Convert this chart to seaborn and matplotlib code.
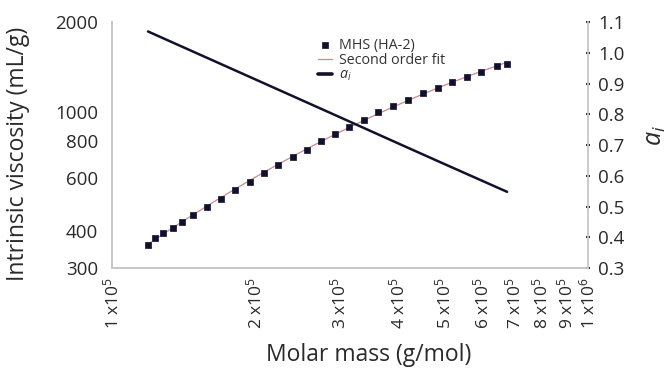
import numpy as np
import pandas as pd
import matplotlib
matplotlib.use("Agg")
import matplotlib.pyplot as plt
from matplotlib.ticker import FixedLocator, NullLocator, FixedFormatter
import seaborn as sns

# ---- data ----
molar_mass = [1.19e5, 1.23e5, 1.28e5, 1.34e5, 1.40e5, 1.48e5, 1.58e5, 1.69e5,
              1.81e5, 1.95e5, 2.09e5, 2.23e5, 2.40e5, 2.57e5, 2.75e5, 2.94e5,
              3.15e5, 3.38e5, 3.62e5, 3.89e5, 4.19e5, 4.50e5, 4.84e5, 5.18e5,
              5.57e5, 5.96e5, 6.44e5, 6.76e5]
viscosity = [359, 379, 394, 409, 429, 453, 482, 513, 546, 581, 623, 663, 706,
             745, 800, 844, 892, 942, 1002, 1050, 1100, 1161, 1207, 1265, 1315,
             1367, 1422, 1444]
ai_mass = [1.19e5, 2.0e5, 3.0e5, 4.0e5, 5.0e5, 6.76e5]
ai_values = [1.070, 0.914, 0.792, 0.705, 0.638, 0.548]

x_ticks = [1e5, 2e5, 3e5, 4e5, 5e5, 6e5, 7e5, 8e5, 9e5, 1e6]
x_tick_labels = [r"1 x10$^{5}$", r"2 x10$^{5}$", r"3 x10$^{5}$", r"4 x10$^{5}$",
                 r"5 x10$^{5}$", r"6 x10$^{5}$", r"7 x10$^{5}$", r"8 x10$^{5}$",
                 r"9 x10$^{5}$", r"1 x10$^{6}$"]
y_ticks = [300, 400, 600, 800, 1000, 2000]
y2_ticks = [0.3, 0.4, 0.5, 0.6, 0.7, 0.8, 0.9, 1.0, 1.1]

# second order fit in log-log space of the measured points
lx = np.log10(molar_mass)
ly = np.log10(viscosity)
coef = np.polyfit(lx, ly, 2)
fit_y = 10 ** np.polyval(coef, lx)

df = pd.DataFrame({"M": molar_mass, "eta": viscosity})
df_fit = pd.DataFrame({"M": molar_mass, "eta": fit_y})
df_ai = pd.DataFrame({"M": ai_mass, "ai": ai_values})

sns.set_style("white")
plt.rcParams["font.family"] = ["Open Sans", "DejaVu Sans"]
plt.rcParams["mathtext.fontset"] = "custom"
plt.rcParams["mathtext.rm"] = "Open Sans"
plt.rcParams["mathtext.it"] = "Open Sans:italic"

fig = plt.figure(figsize=(6.67, 3.71), dpi=100)
ax = fig.add_axes([0.168, 0.2776, 0.7136, 0.6624])
ax2 = ax.twinx()

navy = "#11112e"
txt = "#2a2a2a"
sns.lineplot(data=df_fit, x="M", y="eta", ax=ax, color="#c98a8a", lw=0.9,
             label="Second order fit", zorder=2)
sns.scatterplot(data=df, x="M", y="eta", ax=ax, marker="s", s=22, color=navy,
                edgecolor=navy, linewidth=0.5, label="MHS (HA-2)", zorder=3)
sns.lineplot(data=df_ai, x="M", y="ai", ax=ax2, color=navy, lw=1.8,
             label=r"$a_i$")

ax.set_xscale("log")
ax.set_yscale("log")
ax.set_xlim(1e5, 1e6)
ax.set_ylim(300, 2000)
ax2.set_ylim(0.3, 1.1)

ax.xaxis.set_major_locator(FixedLocator(x_ticks))
ax.xaxis.set_major_formatter(FixedFormatter(x_tick_labels))
ax.xaxis.set_minor_locator(NullLocator())
ax.yaxis.set_major_locator(FixedLocator(y_ticks))
ax.yaxis.set_major_formatter(FixedFormatter([str(v) for v in y_ticks]))
ax.yaxis.set_minor_locator(NullLocator())
ax2.yaxis.set_major_locator(FixedLocator(y2_ticks))
ax2.set_yticklabels([f"{v:.1f}" for v in y2_ticks])

tick_col = "#333333"
ax.tick_params(axis="x", labelrotation=90, labelsize=12.5, length=2.5, width=1.5,
               color=tick_col, direction="inout", labelcolor=txt, pad=5)
ax.tick_params(axis="y", labelsize=13.5, length=0, labelcolor=txt, pad=10)
ax2.tick_params(axis="y", labelsize=13.5, length=2.5, width=1.5, color=tick_col,
                direction="inout", labelcolor=txt, pad=6)

spine_col = "#c8c8c8"
for a in (ax, ax2):
    a.spines["top"].set_visible(False)
    for s in ("left", "right", "bottom"):
        a.spines[s].set_color(spine_col)
        a.spines[s].set_linewidth(1.3)
ax.spines["right"].set_visible(False)

ax.set_xlabel("Molar mass (g/mol)", fontsize=16.5, color=txt)
ax.set_ylabel("Intrinsic viscosity (mL/g)", fontsize=16.5, color=txt)
ax2.set_ylabel(r"$a_i$", fontsize=18, color=txt, rotation=90)
ax.xaxis.set_label_coords(0.54, -0.354)
ax.yaxis.set_label_coords(-0.197, 0.463)
ax2.yaxis.set_label_coords(1.141, 0.54)
ax.xaxis.label.set_va("center")
ax.yaxis.label.set_va("center")
ax2.yaxis.label.set_va("center")

# combined legend
h1, l1 = ax.get_legend_handles_labels()
h2, l2 = ax2.get_legend_handles_labels()
if ax2.get_legend():
    ax2.get_legend().remove()
order = [1, 0]
handles = [h1[i] for i in order] + h2
labels = [l1[i] for i in order] + l2
leg = ax.legend(handles, labels, loc="upper left", bbox_to_anchor=(0.42, 0.96),
                frameon=False, fontsize=10.3, handlelength=1.0, handletextpad=0.5,
                labelspacing=0.0, borderaxespad=0, markerscale=0.8)
for t in leg.get_texts():
    t.set_color("#333333")
leg.get_lines()[-1].set_linewidth(2.6) if len(leg.get_lines()) else None

fig.savefig("out.png", dpi=100)
